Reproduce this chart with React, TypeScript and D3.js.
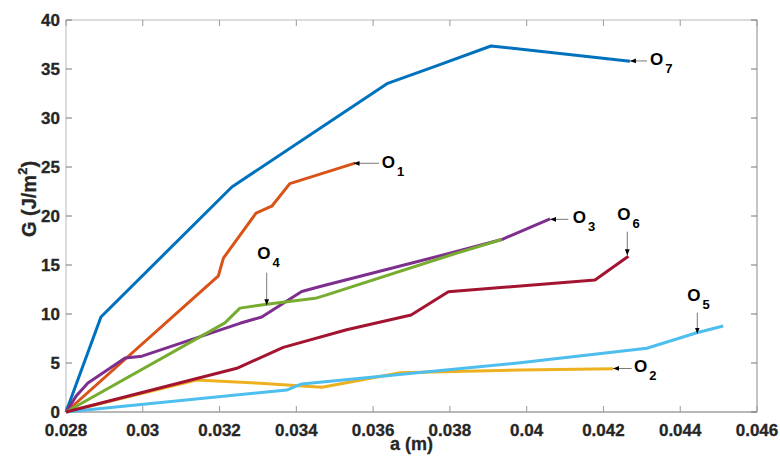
import React from "react";
import * as d3 from "d3";

const xTicks = [0.028, 0.03, 0.032, 0.034, 0.036, 0.038, 0.04, 0.042, 0.044, 0.046];
const xTickLabels = ["0.028", "0.03", "0.032", "0.034", "0.036", "0.038", "0.04", "0.042", "0.044", "0.046"];
const yTicks = [0, 5, 10, 15, 20, 25, 30, 35, 40];

// series: [a (m), G (J/m^2)]
const O7: [number, number][] = [
  [0.028, 0], [0.02891, 9.7], [0.03232, 22.96], [0.03636, 33.5], [0.03756, 35.2], [0.03907, 37.35], [0.04269, 35.8],
];
const O1: [number, number][] = [
  [0.028, 0], [0.03197, 13.9], [0.0321, 15.7], [0.03295, 20.3], [0.03336, 21.0], [0.03383, 23.3], [0.03553, 25.4],
];
const O2: [number, number][] = [
  [0.028, 0], [0.0314, 3.27], [0.03305, 2.93], [0.03467, 2.52], [0.0367, 4.01], [0.03983, 4.29], [0.04225, 4.42],
];
const O3: [number, number][] = [
  [0.028, 0], [0.02826, 1.6], [0.02857, 2.96], [0.02954, 5.5], [0.02998, 5.7], [0.03253, 9.05], [0.0331, 9.7],
  [0.03414, 12.3], [0.03462, 12.8], [0.038, 16.2], [0.03935, 17.6], [0.04061, 19.7],
];
const O4: [number, number][] = [
  [0.028, 0], [0.03214, 9.1], [0.03253, 10.6], [0.03323, 11.0], [0.03449, 11.6], [0.03475, 11.9], [0.038, 16.0], [0.03935, 17.6],
];
const O5: [number, number][] = [
  [0.028, 0], [0.03375, 2.24], [0.03414, 2.86], [0.03983, 5.03], [0.04313, 6.5], [0.04443, 8.09], [0.04512, 8.78],
];
const O6: [number, number][] = [
  [0.028, 0], [0.03245, 4.46], [0.03366, 6.6], [0.03531, 8.4], [0.03699, 9.9], [0.03796, 12.28], [0.04178, 13.47], [0.04265, 15.9],
];

const seriesNames = ["O7", "O1", "O2", "O3", "O4", "O5", "O6"];
const seriesData = [O7, O1, O2, O3, O4, O5, O6];
const seriesColors = ["#0072BD", "#D95319", "#EDB120", "#7E2F8E", "#77AC30", "#4DBEEE", "#A2142F"];

// annotations: label subscript, label anchor (a, G), arrow tail, arrow tip
const annSub = ["7", "1", "3", "6", "5", "2", "4"];
const annLabel: [number, number][] = [
  [0.04321, 35.41], [0.036224, 24.9], [0.041199, 19.26], [0.042361, 19.59], [0.044184, 11.33], [0.042796, 4.11], [0.032983, 15.58],
];
const annTail: [number, number][] = [
  [0.043135, 35.82], [0.036153, 25.38], [0.041085, 19.66], [0.042621, 18.4], [0.044445, 10.13], [0.042736, 4.44], [0.033228, 14.21],
];
const annTip: [number, number][] = [
  [0.04269, 35.82], [0.03549, 25.38], [0.04061, 19.66], [0.042621, 16.0], [0.044445, 8.0], [0.04225, 4.44], [0.033228, 10.9],
];

const W = 780, H = 463;
const L = 66, R = 757, T = 20, B = 412;
const FONT = "'Liberation Sans', Arial, Helvetica, sans-serif";

export default function App() {
  const x = d3.scaleLinear().domain([0.028, 0.046]).range([L, R]);
  const y = d3.scaleLinear().domain([0, 40]).range([B, T]);
  const line = d3.line<[number, number]>().x((d) => x(d[0])).y((d) => y(d[1]));

  return (
    <svg width={W} height={H} style={{ position: "absolute", left: 0, top: 0, background: "#fff" }} fontFamily={FONT}>
      <defs>
        <marker id="ah" viewBox="0 0 10 10" refX="10" refY="5" markerWidth="6" markerHeight="6" orient="auto" markerUnits="userSpaceOnUse">
          <path d="M0,1 L10,5 L0,9 z" fill="#000" />
        </marker>
      </defs>
      {/* box */}
      <line x1={L} x2={L} y1={T} y2={B} stroke="#b8b8b8" strokeWidth={1} />
      <line x1={L} x2={R} y1={T} y2={T} stroke="#b8b8b8" strokeWidth={1} />
      <line x1={R} x2={R} y1={T} y2={B} stroke="#8a8a8a" strokeWidth={1} />
      <line x1={L} x2={R} y1={B} y2={B} stroke="#707070" strokeWidth={1} />
      {xTicks.map((t, i) => (
        <g key={"xt" + i}>
          <line x1={x(t)} x2={x(t)} y1={B} y2={B - 6} stroke="#999" />
          <line x1={x(t)} x2={x(t)} y1={T} y2={T + 6} stroke="#999" />
          <text x={x(t)} y={436} textAnchor="middle" fontSize={17} fontWeight="bold" fill="#262626" stroke="#262626" strokeWidth={0.3}>
            {xTickLabels[i]}
          </text>
        </g>
      ))}
      {yTicks.map((t, i) => (
        <g key={"yt" + i}>
          <line x1={L} x2={L + 6} y1={y(t)} y2={y(t)} stroke="#777" />
          <line x1={R} x2={R - 6} y1={y(t)} y2={y(t)} stroke="#777" />
          <text x={60} y={y(t) + 6} textAnchor="end" fontSize={17} fontWeight="bold" fill="#262626" stroke="#262626" strokeWidth={0.3}>
            {t}
          </text>
        </g>
      ))}
      <text x={(L + R) / 2} y={450} textAnchor="middle" fontSize={18} fontWeight="bold" fill="#262626" stroke="#262626" strokeWidth={0.3}>
        a (m)
      </text>
      <text transform={`translate(36,199) rotate(-90)`} textAnchor="middle" fontSize={20} fontWeight="bold" fill="#262626" stroke="#262626" strokeWidth={0.3}>
        G (J/m<tspan fontSize={13} dy={-9}>2</tspan><tspan dy={9}>)</tspan>
      </text>
      {seriesData.map((s, i) => (
        <path key={seriesNames[i]} d={line(s) || ""} fill="none" stroke={seriesColors[i]} strokeWidth={3} strokeLinejoin="round" />
      ))}
      {annSub.map((sub, i) => (
        <g key={"ann" + i}>
          <line
            x1={x(annTail[i][0])} y1={y(annTail[i][1])}
            x2={x(annTip[i][0])} y2={y(annTip[i][1])}
            stroke="#555" strokeWidth={0.8} markerEnd="url(#ah)"
          />
          <text x={x(annLabel[i][0])} y={y(annLabel[i][1])} fontSize={17} fontWeight="bold" fill="#000">
            O<tspan fontSize={13} dx={2} dy={8}>{sub}</tspan>
          </text>
        </g>
      ))}
    </svg>
  );
}
